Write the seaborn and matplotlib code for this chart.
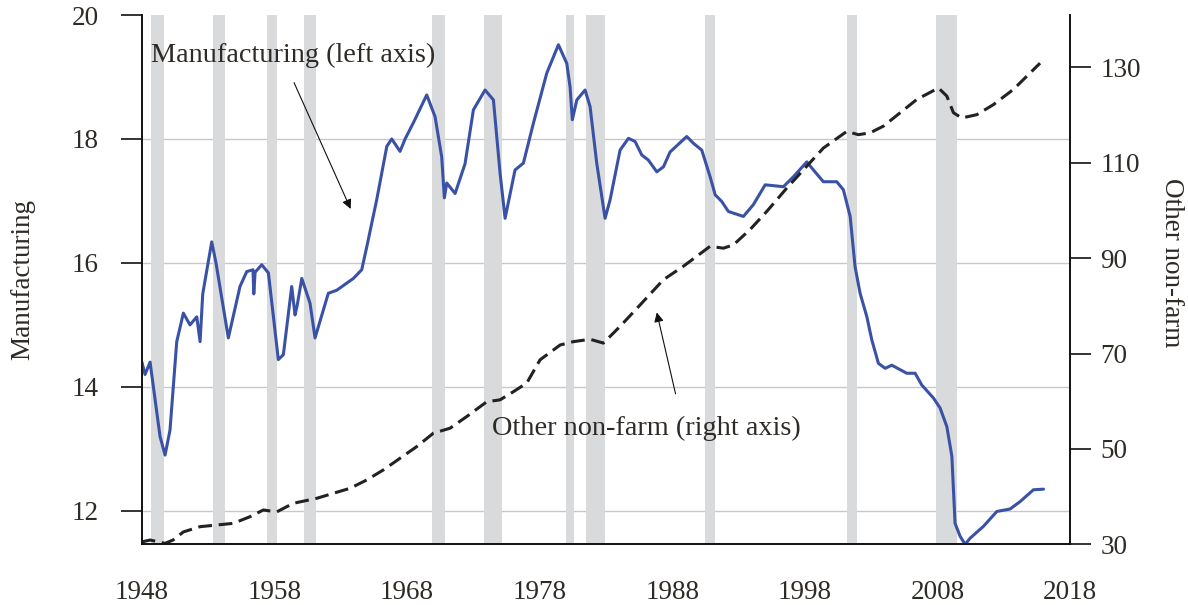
import numpy as np
import pandas as pd
import seaborn as sns
import matplotlib.pyplot as plt

# Manufacturing share (left axis)
mfg_year = [1948.0, 1948.25, 1948.63, 1949.38, 1949.76, 1950.13, 1950.64, 1951.14, 1951.64,
            1952.15, 1952.40, 1952.6, 1953.28, 1953.6, 1954.53, 1955.41, 1955.92, 1956.39,
            1956.45, 1956.55, 1957.05, 1957.55, 1958.30, 1958.68, 1959.31, 1959.56, 1959.71,
            1960.07, 1960.69, 1961.07, 1962.07, 1962.71, 1963.96, 1964.59, 1964.97, 1965.72,
            1966.48, 1966.85, 1967.48, 1967.86, 1968.48, 1969.49, 1970.12, 1970.62, 1970.82,
            1971.0, 1971.63, 1972.38, 1973.01, 1973.89, 1974.52, 1975.02, 1975.40, 1976.15,
            1976.78, 1977.53, 1978.54, 1979.42, 1980.05, 1980.30, 1980.47, 1980.81, 1981.43,
            1981.81, 1982.31, 1982.94, 1983.32, 1984.07, 1984.70, 1985.20, 1985.71, 1986.20,
            1986.84, 1987.34, 1987.84, 1989.10, 1989.60, 1990.23, 1990.86, 1991.24, 1991.74,
            1992.24, 1993.37, 1994.12, 1995.01, 1996.39, 1997.14, 1998.15, 1998.65, 1999.40,
            2000.41, 2000.91, 2001.42, 2001.79, 2002.17, 2002.68, 2003.05, 2003.55, 2004.06,
            2004.56, 2005.69, 2006.32, 2006.82, 2007.70, 2008.20, 2008.71, 2009.09, 2009.33,
            2009.71, 2010.09, 2010.47, 2011.47, 2012.48, 2013.48, 2014.24, 2015.24, 2016.0]
mfg_value = [14.41, 14.2, 14.4, 13.2, 12.9, 13.3, 14.73, 15.19, 15.0,
             15.13, 14.73, 15.5, 16.34, 16.0, 14.79, 15.62, 15.86, 15.89,
             15.5, 15.85, 15.97, 15.84, 14.44, 14.52, 15.62, 15.16, 15.3,
             15.75, 15.35, 14.79, 15.51, 15.56, 15.75, 15.89, 16.26, 17.02,
             17.88, 18.0, 17.8, 18.0, 18.26, 18.71, 18.36, 17.71, 17.05,
             17.29, 17.12, 17.6, 18.47, 18.79, 18.63, 17.45, 16.72, 17.5,
             17.61, 18.25, 19.06, 19.52, 19.22, 18.84, 18.31, 18.63, 18.79,
             18.52, 17.61, 16.72, 17.02, 17.82, 18.01, 17.96, 17.74, 17.66,
             17.47, 17.55, 17.79, 18.04, 17.93, 17.82, 17.39, 17.1, 16.99,
             16.83, 16.75, 16.94, 17.26, 17.23, 17.39, 17.63, 17.5, 17.31,
             17.31, 17.18, 16.75, 15.94, 15.51, 15.13, 14.76, 14.38, 14.30,
             14.35, 14.22, 14.22, 14.03, 13.82, 13.66, 13.36, 12.88, 11.8,
             11.59, 11.46, 11.56, 11.75, 11.99, 12.03, 12.15, 12.34, 12.35]

# Other non-farm employment (right axis)
oth_year = [1948.0, 1948.63, 1949.76, 1950.36, 1951.14, 1952.40, 1953.66, 1954.91, 1956.17,
            1957.17, 1958.18, 1959.43, 1961.20, 1962.45, 1963.71, 1964.97, 1966.22, 1967.48,
            1968.74, 1969.99, 1971.25, 1972.51, 1974.02, 1975.02, 1976.02, 1977.03, 1978.04,
            1979.55, 1980.55, 1981.81, 1982.81, 1984.07, 1985.58, 1987.34, 1988.84, 1990.86,
            1991.86, 1992.62, 1993.87, 1995.13, 1996.64, 1998.15, 1999.40, 2001.17, 2002.04,
            2002.93, 2003.93, 2005.19, 2006.45, 2008.08, 2008.71, 2009.21, 2009.84, 2010.97,
            2012.22, 2013.73, 2015.74]
oth_value = [30.5, 30.9, 30.2, 30.9, 32.6, 33.7, 34.05, 34.4, 35.8,
             37.2, 36.8, 38.6, 39.65, 40.7, 41.75, 43.5, 45.6, 48.05,
             50.5, 53.3, 54.35, 56.8, 59.9, 60.3, 62.0, 63.8, 68.7,
             71.8, 72.5, 73.0, 72.2, 75.7, 80.2, 85.5, 88.3, 92.5,
             92.1, 92.8, 96.0, 99.8, 104.7, 109.3, 113.1, 116.6, 115.9,
             116.3, 117.7, 120.5, 123.3, 125.7, 124.0, 120.5, 119.4, 120.1,
             122.2, 125.4, 130.9]

# NBER recessions
rec_start = [1948.7, 1953.4, 1957.45, 1960.2, 1969.9, 1973.8, 1980.0, 1981.5, 1990.5, 2001.2, 2007.9]
rec_end = [1949.7, 1954.3, 1958.2, 1961.15, 1970.9, 1975.2, 1980.6, 1982.9, 1991.2, 2001.9, 2009.5]

left_ticks = [12, 14, 16, 18, 20]
right_ticks = [30, 50, 70, 90, 110, 130]
x_ticks = [1948, 1958, 1968, 1978, 1988, 1998, 2008, 2018]

mfg = pd.DataFrame({"year": mfg_year, "value": mfg_value})
oth = pd.DataFrame({"year": oth_year, "value": oth_value})

sns.set_style("white")
plt.rcParams["font.family"] = ["Liberation Serif", "DejaVu Serif"]
text_color = "#2e2a26"
fs = 19.5

fig = plt.figure(figsize=(11.88, 6.05), dpi=100)
ax = fig.add_axes([0.1193, 0.1003, 0.7814, 0.8749])
ax2 = ax.twinx()

for s, e in zip(rec_start, rec_end):
    ax.axvspan(s, e, color="#d9dadc", lw=0, zorder=1)

ax.set_axisbelow(True)
ax.yaxis.grid(True, color="#c8c8c8", lw=1.0, zorder=0)

sns.lineplot(data=mfg, x="year", y="value", ax=ax, color="#3a52a6", lw=2.2, zorder=3)
sns.lineplot(data=oth, x="year", y="value", ax=ax2, color="#222222", lw=2.2, linestyle="--")
ax2.lines[-1].set_dashes((4.5, 2.2))

ax.set_xlim(1948, 2018)
ax.set_ylim(11.46, 20)
ax2.set_ylim(30, 141)
ax.set_xticks(x_ticks)
ax.set_yticks(left_ticks)
ax2.set_yticks(right_ticks)
ax.get_ygridlines()[-1].set_visible(False)

ax.set_xlabel("")
ax.set_ylabel("Manufacturing", fontsize=fs, color=text_color, va="center")
ax.yaxis.set_label_coords(-0.128, 0.5)
ax2.set_ylabel("Other non-farm", fontsize=fs, color=text_color, rotation=-90, va="center")
ax2.yaxis.set_label_coords(1.109, 0.533)

ax.tick_params(axis="y", direction="out", length=15, width=1.2, pad=16, labelsize=fs, colors=text_color)
ax.tick_params(axis="x", direction="out", length=15, width=1.2, pad=11, labelsize=fs, colors=text_color)
ax2.tick_params(axis="y", direction="out", length=15, width=1.2, pad=7, labelsize=fs, colors=text_color)
ax.tick_params(axis="both", color="#111111")
ax2.tick_params(axis="y", color="#111111")

for a in (ax, ax2):
    a.spines["top"].set_visible(False)
    for side in ("left", "right", "bottom"):
        a.spines[side].set_color("#111111")
        a.spines[side].set_linewidth(1.2)

ax.text(1948.7, 19.35, "Manufacturing (left axis)", fontsize=20.3, color=text_color, va="center", ha="left")
ax.annotate("", xy=(1963.84, 16.83), xytext=(1959.4, 18.95),
            arrowprops=dict(arrowstyle="-|>", color="#111111", lw=0.8, mutation_scale=14))
ax2.text(1974.4, 54.4, "Other non-farm (right axis)", fontsize=20.3, color=text_color, va="center", ha="left")
ax2.annotate("", xy=(1986.79, 79.2), xytext=(1988.3, 61.0),
             arrowprops=dict(arrowstyle="-|>", color="#111111", lw=0.8, mutation_scale=14))

fig.savefig("out.png", dpi=100)
